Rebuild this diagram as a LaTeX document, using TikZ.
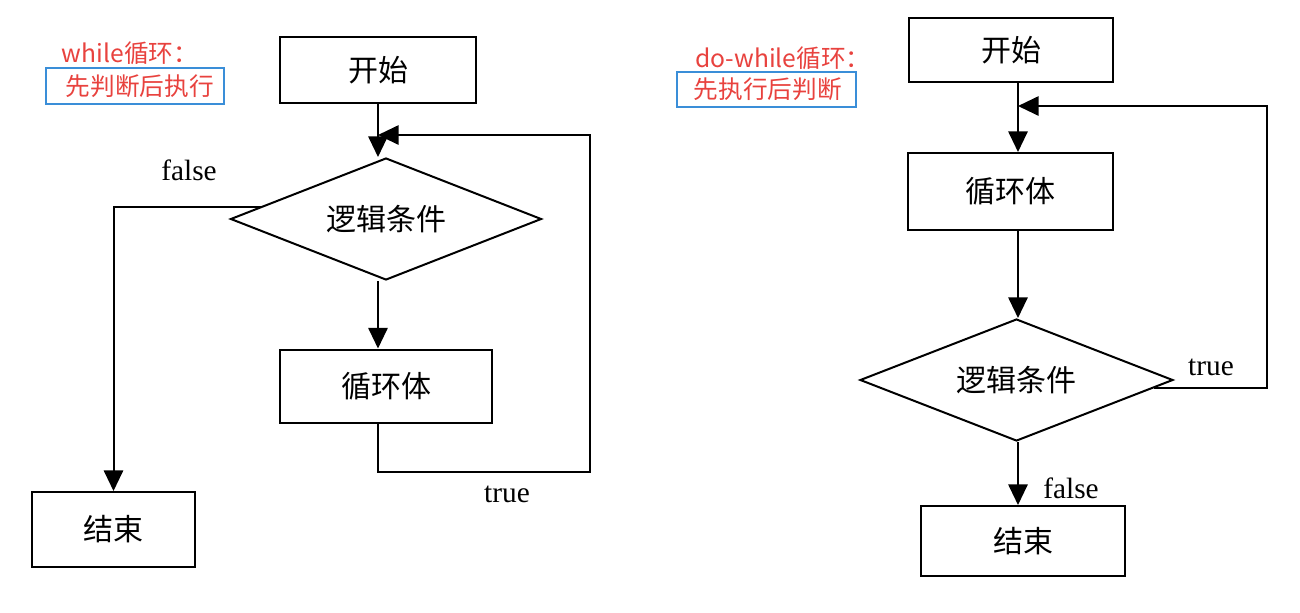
\documentclass[tikz,border=0pt]{standalone}
\usepackage{fontspec}
\setmainfont{Liberation Serif}
\newfontfamily\cjk{Noto Sans CJK SC}
\usetikzlibrary{arrows.meta,shapes.geometric,calc}
\definecolor{labred}{RGB}{232,66,62}
\definecolor{labblue}{RGB}{58,142,216}
\begin{document}
\begin{tikzpicture}[x=0.75pt,y=-0.75pt,
  box/.style={draw, line width=1.5pt, inner sep=0pt, font=\cjk\fontsize{22.5}{26}\selectfont},
  dia/.style={draw, diamond, aspect=2.55, line width=1.5pt, inner sep=0pt, font=\cjk\fontsize{22.5}{26}\selectfont},
  arrow/.style={line width=1.5pt, -{Triangle[length=15.5pt,width=14.5pt]}},
  tf/.style={font=\fontsize{22}{26}\selectfont, inner sep=0pt},
  lab/.style={text=labred, font=\cjk\fontsize{18.5}{22}\selectfont, inner sep=0pt},
  labbox/.style={draw=labblue, line width=2pt, text=labred, inner sep=0pt, font=\cjk\fontsize{18.5}{22}\selectfont}
]
\useasboundingbox (0,0) rectangle (1300,612);

% ---------- left: while ----------
\node[lab] (lab1) at (130,53) {while循环：};
\node[labbox, minimum width={178*0.75pt}, minimum height={36*0.75pt}] (bb1) at (135,86) {\hspace*{7pt}先判断后执行};

\node[box, minimum width={196*0.75pt}, minimum height={66*0.75pt}] (s1) at (378,70) {开始};
\node[dia, minimum width={311*0.75pt}, minimum height={122*0.75pt}] (d1) at (386,219) {逻辑条件};
\node[box, minimum width={212*0.75pt}, minimum height={73*0.75pt}] (b1) at (386,386) {循环体};
\node[box, minimum width={163*0.75pt}, minimum height={75*0.75pt}] (e1) at (113.5,529.5) {结束};

\node[tf] (false1) at (189,170) {false};
\node[tf] (true1) at (507,494) {true};

\coordinate (l1) at (590,472);
\coordinate (r1) at (590,135);
\coordinate (f1) at ($(d1.west)!0.2!(d1.north)$);

\draw[arrow] (s1.south) -- (s1.south |- d1.north);
\draw[arrow] (s1.south |- d1.south) -- (s1.south |- b1.north);
\draw[arrow] (s1.south |- b1.south) |- (l1) -- (r1) -- (s1.south |- r1);
\draw[arrow] (f1) -| (e1.north);

% ---------- right: do-while ----------
\node[lab] (lab2) at (783,58) {do-while循环：};
\node[labbox, minimum width={179*0.75pt}, minimum height={35*0.75pt}] (bb2) at (766.5,89.5) {\hspace*{2pt}先执行后判断};

\node[box, minimum width={204*0.75pt}, minimum height={64*0.75pt}] (s2) at (1011,50) {开始};
\node[box, minimum width={205*0.75pt}, minimum height={77*0.75pt}] (b2) at (1010.5,191.5) {循环体};
\node[dia, minimum width={313*0.75pt}, minimum height={122*0.75pt}] (d2) at (1016.5,380) {逻辑条件};
\node[box, minimum width={204*0.75pt}, minimum height={70*0.75pt}] (e2) at (1023,541) {结束};

\node[tf] (true2) at (1211,367) {true};
\node[tf] (false2) at (1071,488) {false};

\coordinate (c2) at (1018,0);
\coordinate (r2) at (1267,106);
\coordinate (t2) at ($(d2.east)!0.13!(d2.south)$);

\draw[arrow] (s2.south -| c2) -- (b2.north -| c2);
\draw[arrow] (b2.south -| c2) -- (d2.north -| c2);
\draw[arrow] (d2.south -| c2) -- (e2.north -| c2);
\draw[arrow] (t2) -| (r2) -- (c2 |- r2);
\end{tikzpicture}
\end{document}
